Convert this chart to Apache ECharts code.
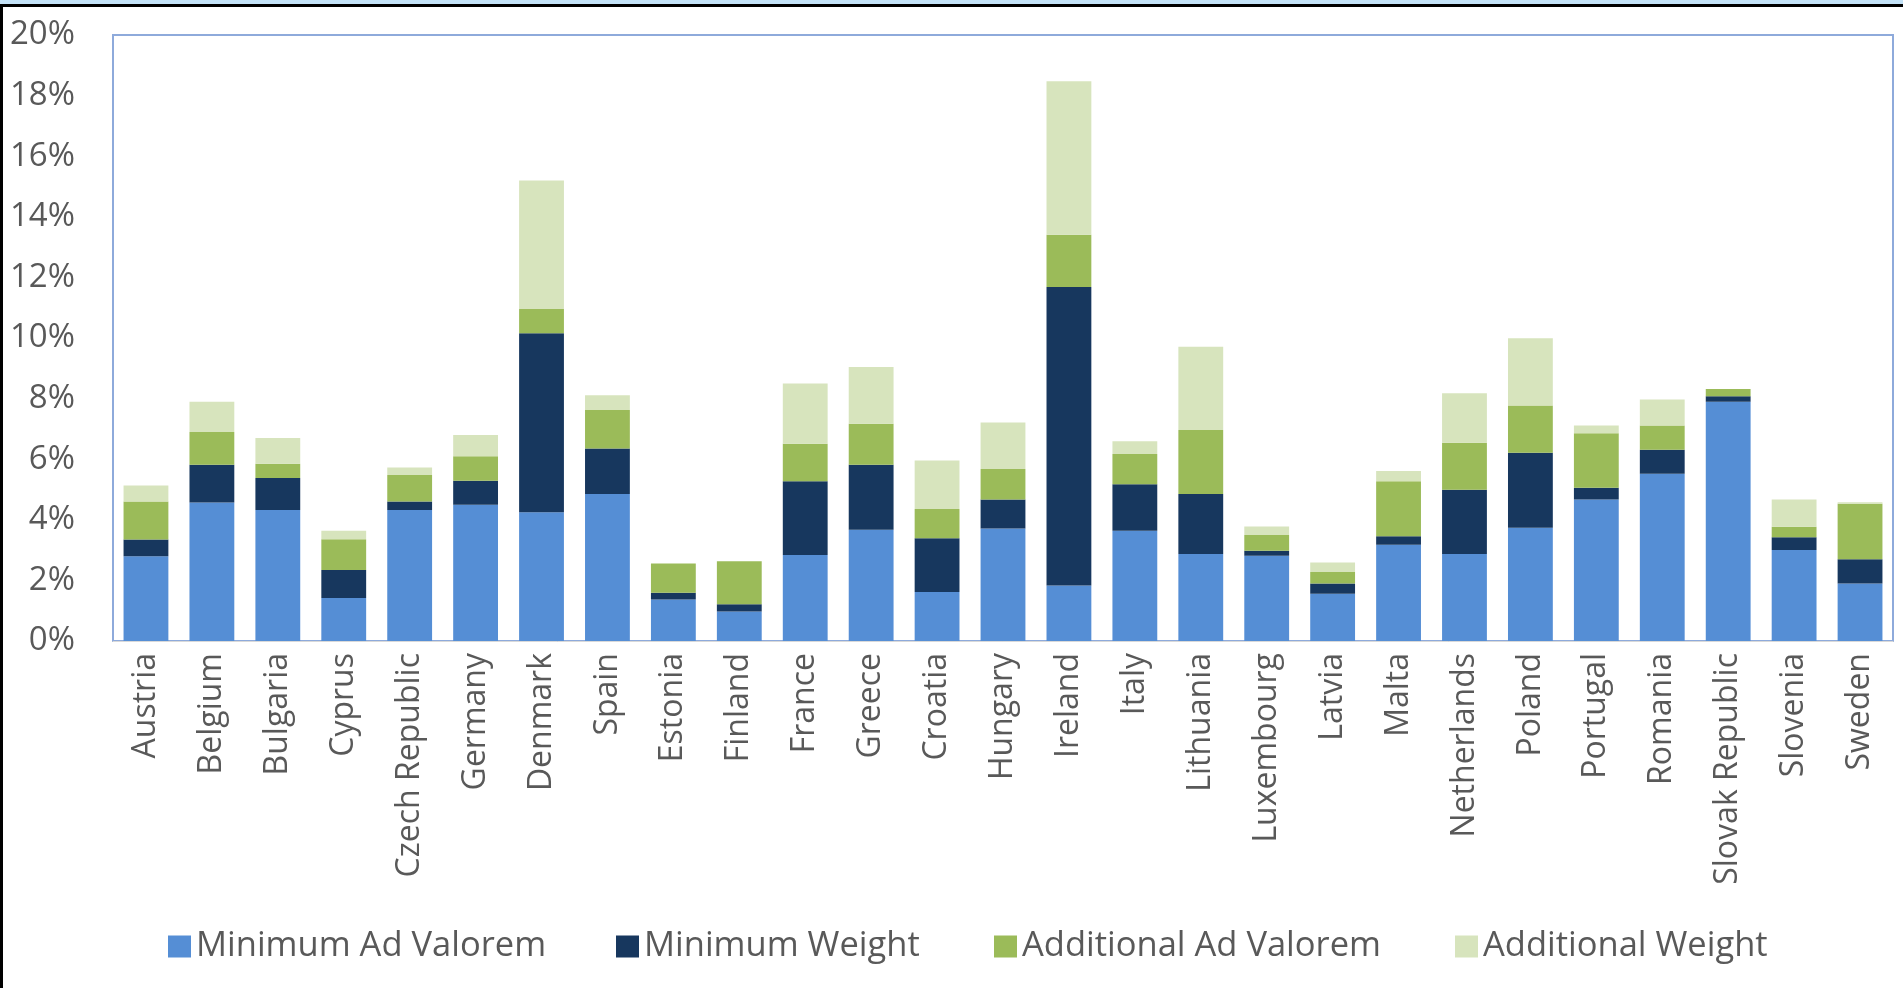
<!DOCTYPE html>
<html>
<head>
<meta charset="utf-8">
<script src="https://cdn.jsdelivr.net/npm/echarts@6/dist/echarts.min.js"></script>
<style>
  html, body { margin: 0; padding: 0; width: 1903px; height: 988px; overflow: hidden; background: #c3e2f7; }
  #bg { position: absolute; top: 4px; left: 0; width: 1903px; height: 984px; box-sizing: border-box;
        background: #ffffff; border-top: 3px solid #000; border-left: 3px solid #000; }
  #chart { position: absolute; top: 0; left: 0; width: 1903px; height: 988px; }
</style>
</head>
<body>
<div id="bg"></div>
<div id="chart"></div>
<script>
const countries = ["Austria","Belgium","Bulgaria","Cyprus","Czech Republic","Germany","Denmark","Spain","Estonia","Finland","France","Greece","Croatia","Hungary","Ireland","Italy","Lithuania","Luxembourg","Latvia","Malta","Netherlands","Poland","Portugal","Romania","Slovak Republic","Slovenia","Sweden"];
const minimumAdValorem   = [2.80,4.57,4.32,1.42,4.32,4.50,4.25,4.85,1.37,0.97,2.84,3.67,1.62,3.71,1.83,3.64,2.87,2.81,1.56,3.18,2.87,3.74,4.67,5.52,7.90,3.00,1.90];
const minimumWeight      = [0.55,1.25,1.06,0.92,0.28,0.79,5.91,1.50,0.22,0.24,2.43,2.15,1.77,0.96,9.85,1.53,1.98,0.17,0.34,0.28,2.12,2.47,0.39,0.79,0.18,0.42,0.80];
const additionalAdValorem= [1.25,1.08,0.47,1.02,0.88,0.81,0.80,1.27,0.97,1.42,1.24,1.35,0.97,1.01,1.73,1.00,2.11,0.52,0.38,1.81,1.55,1.56,1.80,0.80,0.24,0.35,1.83];
const additionalWeight   = [0.53,1.00,0.85,0.28,0.25,0.70,4.24,0.49,0.00,0.00,1.99,1.87,1.60,1.53,5.06,0.42,2.75,0.28,0.31,0.34,1.64,2.22,0.25,0.86,0.00,0.90,0.05];
const seriesNames = ["Minimum Ad Valorem","Minimum Weight","Additional Ad Valorem","Additional Weight"];
const seriesColors = ["#558ed5","#17375e","#9bbb59","#d7e4bd"];
const yTicks = {min: 0, max: 20, interval: 2};

const font = "'Open Sans', sans-serif";
const textColor = "#595959";
const seriesData = [minimumAdValorem, minimumWeight, additionalAdValorem, additionalWeight];
const legendLefts = [163, 611, 989, 1450];

const chart = echarts.init(document.getElementById('chart'), null, {renderer: 'canvas'});
chart.setOption({
  backgroundColor: 'transparent',
  animation: false,
  grid: {left: 113, right: 10, top: 35, bottom: 347, show: true, borderColor: '#8eaadb', borderWidth: 2, containLabel: false},
  legend: seriesNames.map((n, i) => ({
    data: [n], left: legendLefts[i], top: 924, icon: 'rect', itemWidth: 23, itemHeight: 22,
    textStyle: {fontFamily: font, fontSize: 34.5, color: textColor}, itemGap: 0
  })),
  xAxis: {
    type: 'category', data: countries,
    axisTick: {show: false},
    axisLine: {lineStyle: {color: '#d9d9d9', width: 1}},
    axisLabel: {rotate: 90, interval: 0, margin: 12, fontFamily: font, fontSize: 32, color: textColor}
  },
  yAxis: {
    type: 'value', min: yTicks.min, max: yTicks.max, interval: yTicks.interval,
    axisLine: {show: false}, axisTick: {show: false}, splitLine: {show: false},
    axisLabel: {formatter: '{value}%', margin: 38, fontFamily: font, fontSize: 33, color: textColor}
  },
  series: seriesNames.map((n, i) => ({
    name: n, type: 'bar', stack: 'total', data: seriesData[i],
    barCategoryGap: '32%', itemStyle: {color: seriesColors[i]}
  }))
});
</script>
</body>
</html>
